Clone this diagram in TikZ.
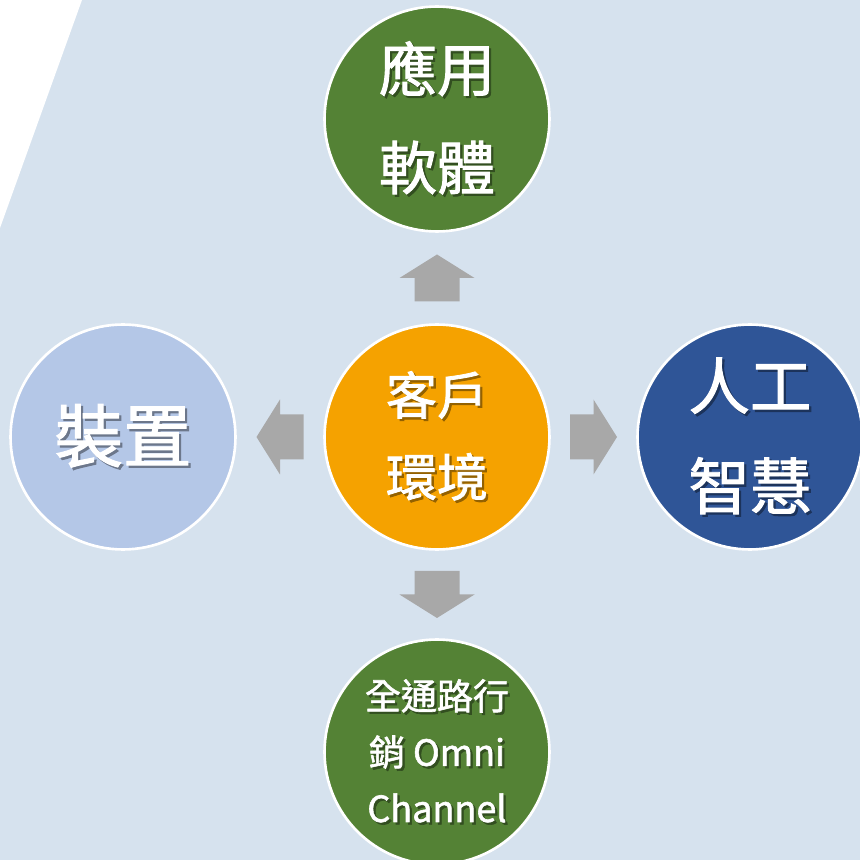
\documentclass[tikz,border=0pt]{standalone}
\usepackage{fontspec}
\newfontfamily\cjk{Noto Sans CJK TC}[FakeBold=1.6]
\usetikzlibrary{calc}
\definecolor{paper}{RGB}{214,226,238}
\definecolor{coreorange}{RGB}{245,162,0}
\definecolor{leafgreen}{RGB}{84,130,53}
\definecolor{aiblue}{RGB}{47,85,151}
\definecolor{devblue}{RGB}{180,199,231}
\definecolor{arrowgray}{RGB}{168,168,168}
% white text with a small drop shadow
\newcommand\shad[1]{\makebox[0pt][l]{\kern1.3pt\raisebox{-1.3pt}{\textcolor{shadowc}{#1}}}#1}
\tikzset{
	bubble/.style={circle,fill=#1,draw=white,line width=1.5pt,minimum size=4.5cm,inner sep=0pt,
		text=white,align=center,execute at begin node={\colorlet{shadowc}{#1!60!black}}},
	blockarrow/.pic={
		\fill[arrowgray] (-23.5,-22.5) -- (0,-22.5) -- (0,-37.5) -- (23.5,0) -- (0,37.5) -- (0,22.5) -- (-23.5,22.5) -- cycle;
	}
}
\begin{document}
\begin{tikzpicture}[x=0.02cm,y=0.02cm]
	\useasboundingbox (0,0) rectangle (860,860);
	\clip (0,0) rectangle (860,860);
	% background - must be drawn before the rest!
	\fill[paper] (0,0) rectangle (860,860);
	\fill[white] (0,860) -- (82,860) -- (0,632) -- cycle;
	% the centre
	\node[bubble=coreorange,font=\cjk\fontsize{29}{46.5}\selectfont] (core) at (437,423) {\shad{客戶}\\\shad{環境}};
	% the four around it
	\node[bubble=leafgreen,font=\cjk\fontsize{33}{56}\selectfont] (app) at (437,741) {\shad{應用}\\\shad{軟體}};
	\node[bubble=devblue,font=\cjk\fontsize{39}{50}\selectfont] (device) at (123,423) {\shad{裝置}};
	\node[bubble=aiblue,font=\cjk\fontsize{35}{57}\selectfont] (ai) at (750,423) {\shad{人工}\\\shad{智慧}};
	\node[bubble=leafgreen,font=\cjk\fontsize{20.5}{32}\selectfont] (omni) at (437,108) {\shad{全通路行}\\\shad{銷 Omni}\\\shad{Channel}};
	% block arrows out of the centre
	\pic[rotate=90] at ($(core)!0.5!(app)$) {blockarrow};
	\pic[rotate=180] at ($(core)!0.5!(device)$) {blockarrow};
	\pic at ($(core)!0.5!(ai)$) {blockarrow};
	\pic[rotate=-90] at ($(core)!0.5!(omni)$) {blockarrow};
\end{tikzpicture}
\end{document}
